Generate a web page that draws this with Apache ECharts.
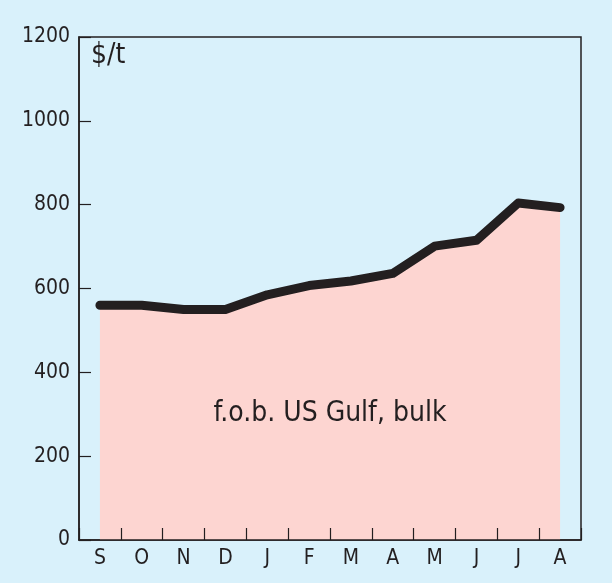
<!DOCTYPE html>
<html><head><meta charset="utf-8">
<script src="https://cdn.jsdelivr.net/npm/echarts@6/dist/echarts.min.js"></script>
<style>html,body{margin:0;padding:0;background:#d9f1fb;}#c{width:612px;height:583px;}</style>
</head><body><div id="c"></div>
<script>
const categories = ['S','O','N','D','J','F','M','A','M','J','J','A'];
const prices = [560, 560, 550, 550, 585, 607, 618, 636, 701, 715, 804, 793];
const yTicks = [0, 200, 400, 600, 800, 1000, 1200];
const unitLabel = '$/t';
const seriesLabel = 'f.o.b. US Gulf, bulk';
const FONT = '"Liberation Sans Narrow","DejaVu Sans Condensed","Roboto Condensed",sans-serif';
const chart = echarts.init(document.getElementById('c'));
chart.setOption({
  backgroundColor: '#d9f1fb',
  animation: false,
  grid: {left: 79, top: 37, right: 31, bottom: 43, show: true, borderColor: '#231f20', borderWidth: 1.5, backgroundColor: 'transparent'},
  xAxis: {
    type: 'category', data: categories, boundaryGap: true, z: 10,
    axisLine: {show: true, lineStyle: {color: '#231f20', width: 1.5}},
    axisTick: {show: true, interval: 0, inside: true, length: 12, lineStyle: {color: '#231f20', width: 1.2}},
    axisLabel: {color: '#231f20', fontFamily: FONT, fontSize: 21, margin: 8, interval: 0}
  },
  yAxis: {
    type: 'value', min: yTicks[0], max: yTicks[yTicks.length-1], interval: 200, z: 10,
    splitLine: {show: false},
    axisLine: {show: true, lineStyle: {color: '#231f20', width: 1.5}},
    axisTick: {show: true, inside: true, length: 12, lineStyle: {color: '#231f20', width: 1.2}},
    axisLabel: {color: '#231f20', fontFamily: FONT, fontSize: 21, margin: 9, formatter: v => String(v)}
  },
  graphic: [
    {type: 'text', z: 100, left: 91, top: 42, style: {text: unitLabel, font: '28px ' + FONT, fill: '#231f20'}},
    {type: 'text', z: 100, x: 330, y: 414, style: {text: seriesLabel, font: '28px ' + FONT, fill: '#231f20', align: 'center', verticalAlign: 'middle'}}
  ],
  series: [{
    type: 'line', data: prices, symbol: 'none', z: 2,
    lineStyle: {color: '#231f20', width: 9, cap: 'round', join: 'round'},
    areaStyle: {color: '#fdd5d1', opacity: 1}
  }]
});
</script></body></html>
